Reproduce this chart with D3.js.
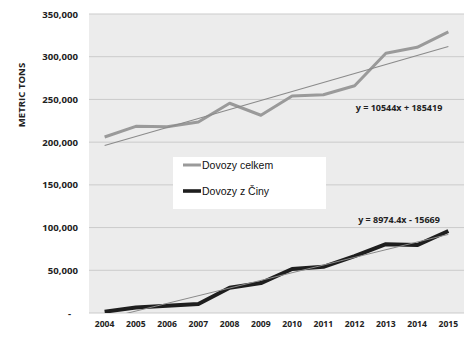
<!DOCTYPE html>
<html><head><meta charset="utf-8">
<script src="https://cdn.jsdelivr.net/npm/d3@7"></script>
<style>body{margin:0;background:#fff}svg{display:block}</style>
</head><body>
<svg id="c" width="472" height="341"></svg>
<script>
const years = ["2004","2005","2006","2007","2008","2009","2010","2011","2012","2013","2014","2015"];
const totalImports = [206000,218500,218000,223500,245500,231500,254000,255500,266000,304000,311000,329000];
const chinaImports = [1500,6500,8500,10500,29500,35000,51500,54000,66500,80500,79500,96000];
const seriesNames = ["Dovozy celkem","Dovozy z Činy"];
const trendTotal = [10544, 185419];
const trendChina = [8974.4, -15669];
const trendLabels = ["y = 10544x + 185419","y = 8974.4x - 15669"];
const yTicks = [0,50000,100000,150000,200000,250000,300000,350000];
const yTitle = "METRIC TONS";

const svg = d3.select("#c");
const L = 89, R = 464, T = 14, B = 313;
const x = d3.scaleBand().domain(years).range([L, R]);
const y = d3.scaleLinear().domain([0, 350000]).range([B, T]);
const xc = d => x(d) + x.bandwidth()/2;
const FONT = "'Open Sans', sans-serif";

svg.append("defs").append("clipPath").attr("id","pc")
  .append("rect").attr("x",L).attr("y",T).attr("width",R-L).attr("height",B-T);

svg.append("rect").attr("x",L).attr("y",T).attr("width",R-L).attr("height",B-T).attr("fill","#ececec");

// grid
svg.append("g").selectAll("line").data(yTicks).join("line")
  .attr("x1",L).attr("x2",R).attr("y1",d=>y(d)).attr("y2",d=>y(d))
  .attr("stroke","#cbcbcb").attr("stroke-width",1);

// y axis labels
const fmt = d => d === 0 ? "-" : d3.format(",")(d);
const yAxis = d3.axisLeft(y).tickValues(yTicks).tickFormat(fmt).tickSize(0).tickPadding(11);
const gy = svg.append("g").attr("transform",`translate(${L},0)`).call(yAxis);
gy.select(".domain").remove();
gy.selectAll("text").attr("font-family",FONT).attr("font-weight","bold")
  .attr("font-size","9.6px").attr("fill","#222");
gy.selectAll(".tick").filter(d=>d===0).select("text").attr("dx","-7");

// x axis labels
const xAxis = d3.axisBottom(x).tickSize(0).tickPadding(8);
const gx = svg.append("g").attr("transform",`translate(0,${B})`).call(xAxis);
gx.select(".domain").remove();
gx.selectAll("text").attr("font-family",FONT).attr("font-weight","bold")
  .attr("font-size","8.6px").attr("fill","#222");

// y title
svg.append("text").attr("transform","translate(25,95) rotate(-90)").attr("text-anchor","middle")
  .attr("font-family",FONT).attr("font-weight","bold").attr("font-size","9.6px")
  .attr("fill","#222").text(yTitle);

const line = d3.line().x((d,i)=>xc(years[i])).y(d=>y(d));
const plot = svg.append("g").attr("clip-path","url(#pc)");

function trend(c){
  const x1 = 1, x2 = years.length;
  return [[xc(years[0]), y(c[0]*x1+c[1])],[xc(years[years.length-1]), y(c[0]*x2+c[1])]];
}

plot.append("path").datum(totalImports).attr("d",line).attr("fill","none")
  .attr("stroke","#9a9a9a").attr("stroke-width",3).attr("stroke-linejoin","round");
plot.append("path").datum(chinaImports).attr("d",line).attr("fill","none")
  .attr("stroke","#1e1e1e").attr("stroke-width",4).attr("stroke-linejoin","round");
plot.append("path").attr("d",d3.line()(trend(trendTotal))).attr("stroke","#8a8a8a").attr("stroke-width",1.1).attr("fill","none");
plot.append("path").attr("d",d3.line()(trend(trendChina))).attr("stroke","#8a8a8a").attr("stroke-width",1).attr("fill","none");

// trend labels
svg.append("text").attr("x",399).attr("y",110.5).attr("text-anchor","middle")
  .attr("font-family",FONT).attr("font-weight","bold").attr("font-size","9px")
  .attr("fill","#222").text(trendLabels[0]);
svg.append("text").attr("x",399).attr("y",222.5).attr("text-anchor","middle")
  .attr("font-family",FONT).attr("font-weight","bold").attr("font-size","9px")
  .attr("fill","#222").text(trendLabels[1]);

// legend
const lg = svg.append("g");
lg.append("rect").attr("x",173).attr("y",157).attr("width",153).attr("height",52).attr("fill","#fff");
const colors = ["#9a9a9a","#1e1e1e"], widths=[3,3.6];
seriesNames.forEach((n,i)=>{
  const yy = 165 + i*26;
  lg.append("line").attr("x1",183).attr("x2",201).attr("y1",yy).attr("y2",yy)
    .attr("stroke",colors[i]).attr("stroke-width",widths[i]);
  lg.append("text").attr("x",202).attr("y",yy+3.8).attr("font-family","'Liberation Sans', Arial, sans-serif")
    .attr("font-size","10.5px").attr("fill","#111").text(n);
});
</script>
</body></html>
